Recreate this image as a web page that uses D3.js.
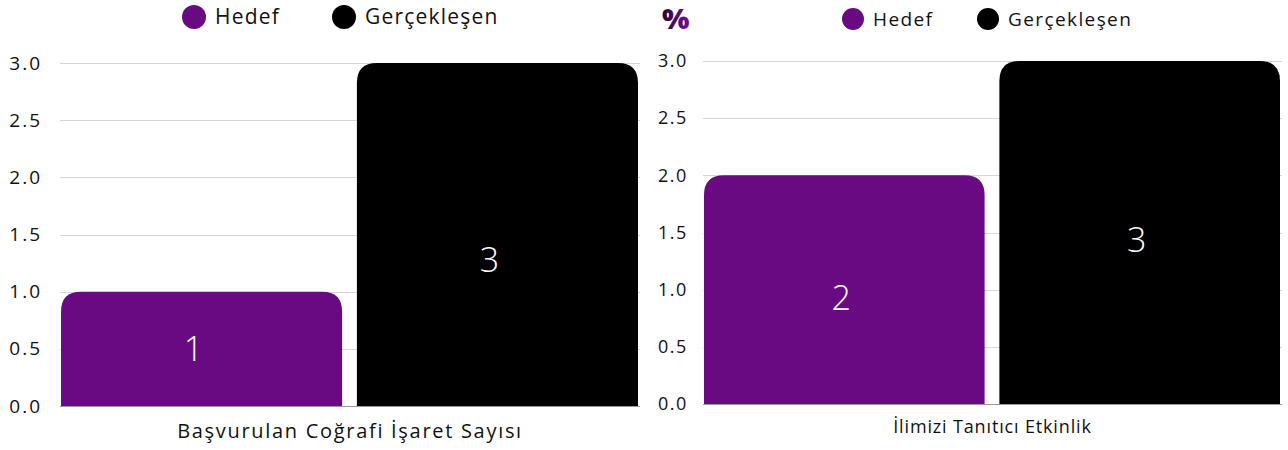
<!DOCTYPE html>
<html>
<head>
<meta charset="utf-8">
<script src="https://cdn.jsdelivr.net/npm/d3@7"></script>
<style>
  body { margin: 0; background: #fff; }
  svg { display: block; font-family: "Open Sans", sans-serif; }
</style>
</head>
<body>
<svg id="chart" width="1288" height="450"></svg>
<script>
const series = ["Hedef", "Gerçekleşen"];
const colors = ["#6a0a82", "#000000"];
const categories = ["Başvurulan Coğrafi İşaret Sayısı", "İlimizi Tanıtıcı Etkinlik"];
const hedefValues = [1, 2];
const gerceklesenValues = [3, 3];
const yTicks = [0, 0.5, 1, 1.5, 2, 2.5, 3];

// layout of the two panels
const panels = [
  { x0: 60, x1: 640, y0: 406, y1: 63, tick: 19, tickLs: 2, tickPad: 18,
    cat: 20, catLs: 1.7, catY: 431,
    legendY: 17, legend: 21, legendLs: 1.2, legendX: [194, 344], r: 12,
    labelDx: -8, labelDy: [0, 26] },
  { x0: 703, x1: 1282, y0: 404, y1: 61, tick: 18, tickLs: 1.6, tickPad: 15,
    cat: 18, catLs: 0.85, catY: 427,
    legendY: 19, legend: 19, legendLs: 1.4, legendX: [853, 988], r: 11,
    labelDx: -3, labelDy: [8, 8] }
];

const svg = d3.select("#chart");

const defs = svg.append("defs");
const grad = defs.append("linearGradient").attr("id", "pct").attr("x1", "0").attr("x2", "1");
grad.append("stop").attr("offset", "0%").attr("stop-color", "#2a0638");
grad.append("stop").attr("offset", "100%").attr("stop-color", "#7a0c96");

function topRounded(x, y, w, h, r) {
  r = Math.min(r, w / 2, h);
  return `M${x},${y + h}V${y + r}Q${x},${y} ${x + r},${y}H${x + w - r}Q${x + w},${y} ${x + w},${y + r}V${y + h}Z`;
}

panels.forEach((p, i) => {
  const values = [hedefValues[i], gerceklesenValues[i]];
  const g = svg.append("g");

  const x = d3.scaleBand().domain(series).range([p.x0 + 1, p.x1 - 2]).paddingInner(0.05);
  const y = d3.scaleLinear().domain([0, 3]).range([p.y0, p.y1]);

  // grid
  g.append("g")
    .selectAll("line")
    .data(yTicks)
    .join("line")
    .attr("x1", p.x0).attr("x2", p.x1)
    .attr("y1", d => Math.round(y(d)) + 0.5).attr("y2", d => Math.round(y(d)) + 0.5)
    .attr("stroke", d => d === 0 ? "#999" : "#d6d6d6")
    .attr("stroke-width", 1);

  // y axis labels
  const axis = g.append("g")
    .attr("transform", `translate(${p.x0},0)`)
    .call(d3.axisLeft(y).tickValues(yTicks).tickFormat(d3.format(".1f")).tickSize(0).tickPadding(p.tickPad));
  axis.select(".domain").remove();
  axis.selectAll("text")
    .attr("font-size", p.tick)
    .attr("letter-spacing", p.tickLs)
    .attr("font-family", "'Open Sans', sans-serif")
    .attr("fill", "#111");

  // bars
  g.append("g")
    .selectAll("path")
    .data(values)
    .join("path")
    .attr("d", (d, j) => topRounded(x(series[j]), y(d), x.bandwidth(), y(0) - y(d), 20))
    .attr("fill", (d, j) => colors[j]);

  // value labels
  g.append("g")
    .selectAll("text")
    .data(values)
    .join("text")
    .attr("x", (d, j) => x(series[j]) + x.bandwidth() / 2 + p.labelDx)
    .attr("y", (d, j) => (y(d) + y(0)) / 2 + p.labelDy[j])
    .attr("dy", "0.35em")
    .attr("text-anchor", "middle")
    .attr("fill", "#fff")
    .attr("font-size", 34)
    .attr("font-weight", 300)
    .text(d => d);

  // category label
  g.append("text")
    .attr("x", (p.x0 + p.x1) / 2)
    .attr("y", p.catY)
    .attr("dy", "0.35em")
    .attr("text-anchor", "middle")
    .attr("font-size", p.cat)
    .attr("letter-spacing", p.catLs)
    .attr("fill", "#111")
    .text(categories[i]);

  // legend
  const leg = g.append("g")
    .selectAll("g")
    .data(series)
    .join("g")
    .attr("transform", (d, j) => `translate(${p.legendX[j]},${p.legendY})`);
  leg.append("circle")
    .attr("r", p.r)
    .attr("fill", (d, j) => colors[j]);
  leg.append("text")
    .attr("x", p.r + 9)
    .attr("dy", "0.35em")
    .attr("font-size", p.legend)
    .attr("letter-spacing", p.legendLs)
    .attr("fill", "#111")
    .text(d => d);
});

svg.append("text")
  .attr("x", 662)
  .attr("y", 29)
  .attr("font-size", 29)
  .attr("font-weight", 800)
  .attr("fill", "url(#pct)")
  .text("%");
</script>
</body>
</html>
